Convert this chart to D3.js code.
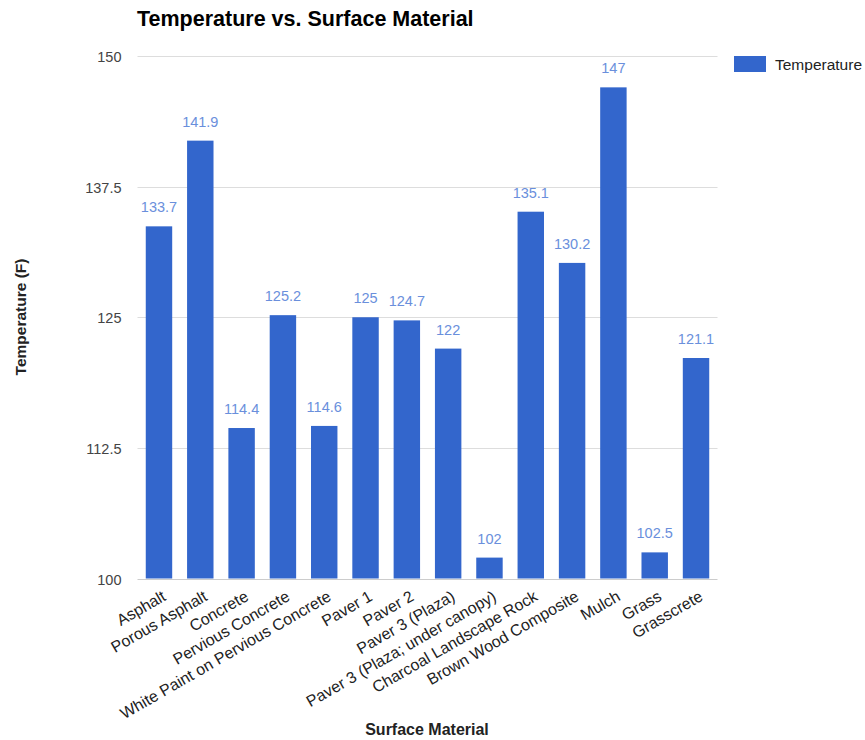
<!DOCTYPE html>
<html><head><meta charset="utf-8">
<script src="https://cdn.jsdelivr.net/npm/d3@7"></script>
<style>body{margin:0;background:#fff}svg{display:block;font-family:"Liberation Sans",Arial,sans-serif}</style>
</head><body>
<svg id="c" width="865" height="740"></svg>
<script>
const categories = ["Asphalt","Porous Asphalt","Concrete","Pervious Concrete","White Paint on Pervious Concrete","Paver 1","Paver 2","Paver 3 (Plaza)","Paver 3 (Plaza; under canopy)","Charcoal Landscape Rock","Brown Wood Composite","Mulch","Grass","Grasscrete"];
const temperature = [133.7,141.9,114.4,125.2,114.6,125,124.7,122,102,135.1,130.2,147,102.5,121.1];
const valueLabels = ["133.7","141.9","114.4","125.2","114.6","125","124.7","122","102","135.1","130.2","147","102.5","121.1"];
const yTicks = [100,112.5,125,137.5,150];
const yTickLabels = ["100","112.5","125","137.5","150"];
const seriesName = "Temperature";

const svg = d3.select("#c");
const L=137.5, R=717.5, T=56, B=578.5;
const x = d3.scaleBand().domain(categories).range([L,R]).paddingInner(0.36).paddingOuter(0.2);
const y = d3.scaleLinear().domain([100,150]).range([B,T]);

// gridlines
svg.append("g").selectAll("line").data(yTicks).join("line")
  .attr("x1",L).attr("x2",R).attr("y1",d=>Math.round(y(d))+0.5).attr("y2",d=>Math.round(y(d))+0.5)
  .attr("stroke",d=>d===100?"#cccccc":"#dddddd").attr("stroke-width",1);

// y tick labels
svg.append("g").selectAll("text").data(yTicks).join("text")
  .attr("x",L-16).attr("y",d=>y(d)+6).attr("text-anchor","end")
  .attr("font-size",14.5).attr("fill","#444").text((d,i)=>yTickLabels[i]);

// bars
svg.append("g").selectAll("rect").data(temperature).join("rect")
  .attr("x",(d,i)=>x(categories[i])).attr("width",x.bandwidth())
  .attr("y",d=>y(d)).attr("height",d=>B-y(d)).attr("fill","#3366cc");

// value labels
svg.append("g").selectAll("text").data(temperature).join("text")
  .attr("x",(d,i)=>x(categories[i])+x.bandwidth()/2).attr("y",d=>y(d)-14)
  .attr("text-anchor","middle").attr("font-size",14.5).attr("fill","#6a8fdc")
  .text((d,i)=>valueLabels[i]);

// x tick labels
svg.append("g").selectAll("text").data(categories).join("text")
  .attr("transform",d=>`translate(${x(d)+x.bandwidth()/2+8},${B+21}) rotate(-30)`)
  .attr("text-anchor","end").attr("font-size",16).attr("fill","#222").text(d=>d);

// title
svg.append("text").attr("x",137).attr("y",26).attr("font-size",21.5).attr("font-weight","bold").attr("fill","#000").text("Temperature vs. Surface Material");

// axis titles
svg.append("text").attr("transform",`translate(26,317) rotate(-90)`).attr("text-anchor","middle")
  .attr("font-size",15.5).attr("font-weight","bold").attr("fill","#222").text("Temperature (F)");
svg.append("text").attr("x",427).attr("y",735).attr("text-anchor","middle")
  .attr("font-size",16).attr("font-weight","bold").attr("fill","#222").text("Surface Material");

// legend
const lg = svg.append("g");
lg.append("rect").attr("x",734).attr("y",56).attr("width",32).attr("height",16).attr("fill","#3366cc");
lg.append("text").attr("x",775).attr("y",70).attr("font-size",15.5).attr("fill","#222").text(seriesName);
</script>
</body></html>
